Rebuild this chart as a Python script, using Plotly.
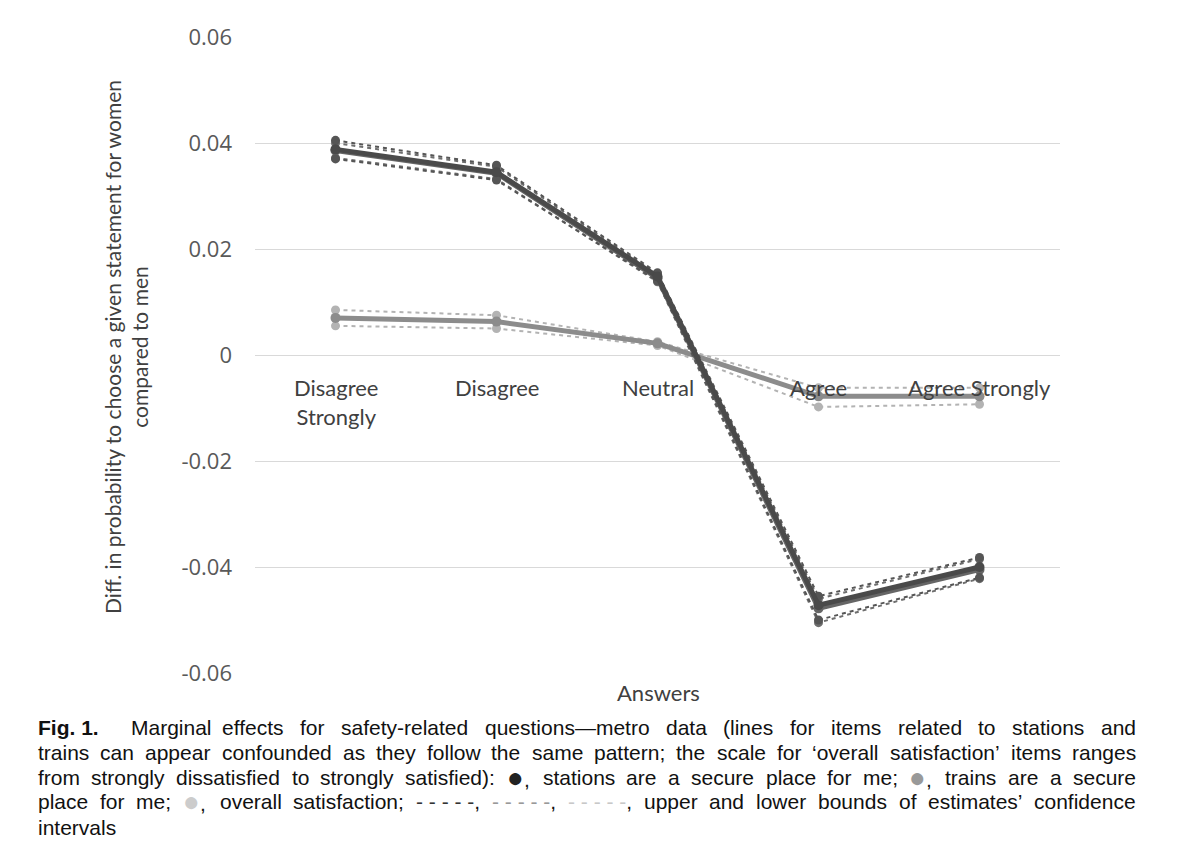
import plotly.graph_objects as go

categories = ["Disagree Strongly", "Disagree", "Neutral", "Agree", "Agree Strongly"]
cat_labels = ["Disagree<br>Strongly", "Disagree", "Neutral", "Agree", "Agree Strongly"]

stations = [0.0388, 0.0345, 0.0148, -0.0472, -0.0400]
stations_upper = [0.0405, 0.0358, 0.0155, -0.0455, -0.0382]
stations_lower = [0.0370, 0.0330, 0.0140, -0.0500, -0.0420]

trains = [0.0386, 0.0343, 0.0145, -0.0478, -0.0405]
trains_upper = [0.0400, 0.0355, 0.0152, -0.0460, -0.0385]
trains_lower = [0.0372, 0.0332, 0.0138, -0.0505, -0.0422]

satisfaction = [0.0070, 0.0063, 0.0022, -0.0078, -0.0078]
satisfaction_upper = [0.0085, 0.0075, 0.0025, -0.0062, -0.0062]
satisfaction_lower = [0.0055, 0.0050, 0.0018, -0.0098, -0.0093]

y_ticks = [0.06, 0.04, 0.02, 0, -0.02, -0.04, -0.06]
y_ticktext = ["0.06", "0.04", "0.02", "0", "-0.02", "-0.04", "-0.06"]

# ---------------------------------------------------------------- layout geometry
OFF = 8                      # page body margin
PL, PR, PT, PB = 255, 1060, 37, 673   # plot area in screen pixels
FIG_W, FIG_H = 1184, 845


def px_x(x):
    return (x - PL) / (PR - PL)


def px_y(y):
    return (PB - y) / (PB - PT)


fig = go.Figure()


def add_bound(y, color):
    fig.add_trace(go.Scatter(
        x=categories, y=y, mode="lines+markers",
        line=dict(color=color, width=2, dash="4px,4px"),
        marker=dict(color=color, size=9), showlegend=False, hoverinfo="skip"))


def add_main(y, color):
    fig.add_trace(go.Scatter(
        x=categories, y=y, mode="lines+markers",
        line=dict(color=color, width=5),
        marker=dict(color=color, size=10), showlegend=False))


# overall satisfaction (light gray)
add_bound(satisfaction_upper, "#b3b3b3")
add_bound(satisfaction_lower, "#b3b3b3")
add_main(satisfaction, "#8c8c8c")

# trains (medium gray)
add_bound(trains_upper, "#6e6e6e")
add_bound(trains_lower, "#6e6e6e")
add_main(trains, "#666666")

# stations (dark)
add_bound(stations_upper, "#555555")
add_bound(stations_lower, "#555555")
add_main(stations, "#4a4a4a")

annotations = []
for c, lab in zip(categories, cat_labels):
    annotations.append(dict(
        x=c, y=0, xref="x", yref="y", text=lab, showarrow=False,
        xanchor="center", yanchor="top", yshift=-17,
        font=dict(family="Lato", size=22, color="#404040")))

annotations.append(dict(
    x=px_x(126), y=px_y(347), xref="paper", yref="paper", textangle=-90,
    text="Diff. in probability to choose a given statement for women<br>compared to men",
    showarrow=False, xanchor="center", yanchor="middle",
    font=dict(family="Lato", size=21, color="#404040")))

annotations.append(dict(
    x=px_x(658), y=px_y(692), xref="paper", yref="paper", text="Answers",
    showarrow=False, xanchor="center", yanchor="middle",
    font=dict(family="Lato", size=22, color="#404040")))

# ---------------------------------------------------------------- justified caption
CAP_FONT = "Liberation Sans"
CAP_SIZE = 21
W = {' ': 278, '(': 333, ')': 333, ',': 278, '-': 333, '.': 278, ':': 278, ';': 278,
     '\u2018': 222, '\u2019': 222, '\u2014': 1000, '\u25cf': 900,
     'F': 611, 'a': 556, 'b': 556, 'c': 500, 'd': 556, 'e': 556, 'f': 278, 'g': 556,
     'h': 556, 'i': 222, 'j': 222, 'k': 500, 'l': 222, 'm': 833, 'n': 556, 'o': 556,
     'p': 556, 'q': 556, 'r': 333, 's': 500, 't': 278, 'u': 556, 'v': 500, 'w': 722,
     'x': 500, 'y': 500, 'z': 500, '1': 556}


def tw(s):
    return sum(W.get(ch, 556) for ch in s) * CAP_SIZE / 1000.0


def bullet(color):
    return ("<span style='color:%s;font-size:28px'>\u25cf</span>," % color, "\u25cf,")


def dashes(color):
    return ("<span style='color:%s'>- - - - -</span>," % color, "- - - - -,")


def words(s):
    return [(w, w) for w in s.split(" ")]


cap_lines = [
    (130, words("Marginal effects for safety-related questions\u2014metro data (lines for items related to stations and"), True),
    (37, words("trains can appear confounded as they follow the same pattern; the scale for \u2018overall satisfaction\u2019 items ranges"), True),
    (37, words("from strongly dissatisfied to strongly satisfied):") + [bullet("#222222")]
     + words("stations are a secure place for me;") + [bullet("#999999")]
     + words("trains are a secure"), True),
    (37, words("place for me;") + [bullet("#cccccc")] + words("overall satisfaction;")
     + [dashes("#333333"), dashes("#999999"), dashes("#c8c8c8")]
     + words("upper and lower bounds of estimates\u2019 confidence"), True),
    (37, words("intervals"), False),
]
cap_y = [727, 752, 777, 802, 827]
RIGHT = 1135

cap_font = dict(family=CAP_FONT, size=CAP_SIZE, color="#111111")
annotations.append(dict(
    x=px_x(37), y=px_y(cap_y[0]), xref="paper", yref="paper", text="<b>Fig. 1.</b>",
    showarrow=False, xanchor="left", yanchor="middle", font=cap_font, borderpad=0))

for (x0, toks, justify), yy in zip(cap_lines, cap_y):
    widths = [tw(m) for _, m in toks]
    if justify and len(toks) > 1:
        gap = (RIGHT - x0 - sum(widths)) / (len(toks) - 1)
    else:
        gap = tw(" ")
    x = x0
    for (markup, _), wdt in zip(toks, widths):
        annotations.append(dict(
            x=px_x(x), y=px_y(yy), xref="paper", yref="paper", text=markup,
            showarrow=False, xanchor="left", yanchor="middle", font=cap_font,
            borderpad=0))
        x += wdt + gap

fig.update_layout(
    width=FIG_W, height=FIG_H,
    margin=dict(l=PL - OFF, r=FIG_W - (PR - OFF), t=PT - OFF, b=FIG_H - (PB - OFF)),
    paper_bgcolor="white", plot_bgcolor="white",
    annotations=annotations,
    xaxis=dict(type="category", categoryorder="array", categoryarray=categories,
               range=[-0.5, 4.5], showticklabels=False, showgrid=False,
               zeroline=False, showline=False, ticks=""),
    yaxis=dict(range=[-0.06, 0.06], tickvals=y_ticks, ticktext=y_ticktext,
               showgrid=True, gridcolor="#d9d9d9", gridwidth=1,
               zeroline=False, showline=False, ticks="",
               ticklabelstandoff=22,
               tickfont=dict(family="Open Sans", size=22, color="#595959")),
)

fig.write_html("out.html")
